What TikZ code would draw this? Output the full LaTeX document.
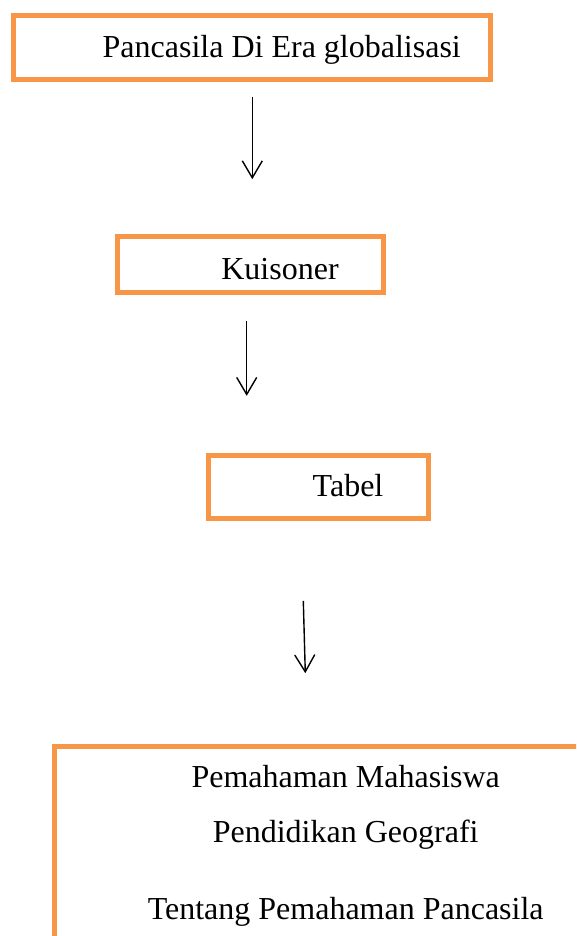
\documentclass[tikz,border=0pt]{standalone}
\usepackage{fontspec}
\setmainfont{Liberation Serif}
\usepackage{tikz}
\usetikzlibrary{calc,arrows.meta,positioning}
\definecolor{boxorange}{RGB}{247,150,70}

\begin{document}
\begin{tikzpicture}[x=1pt,y=-1pt]

\tikzset{orangebox/.style={draw=boxorange,line width=5pt,inner sep=0pt,shape=rectangle},
boxtext/.style={font=\fontsize{32}{38}\selectfont,inner sep=0pt,anchor=base},
flowarrow/.style={line width=1.4pt,-{Straight Barb[length=17pt,width=20pt,line width=1.4pt]}}}

\path[use as bounding box,clip] (0,0) rectangle (576,936);

% Boxes
\node[orangebox,minimum width=477.5pt,minimum height=64.5pt] (era) at (251.75,47.75) {};
\node[orangebox,minimum width=266pt,minimum height=56pt] (kuis) at (250,264.8) {};
\node[orangebox,minimum width=220pt,minimum height=63.5pt] (tabel) at (318,486.75) {};
\node[orangebox,minimum width=600pt,minimum height=300pt] (hasil) at (354.7,896) {};

% Texts
\node[boxtext] (eraText) at ($(era.center) + (30,9.3)$) {Pancasila Di Era globalisasi};
\node[boxtext] (kuisText) at ($(kuis.center) + (30,14.5)$) {Kuisoner};
\node[boxtext] (tabelText) at ($(tabel.center) + (30,10)$) {Tabel};
\node[boxtext] (hasil1) at ($(hasil.north west) + (293.5,44)$) {Pemahaman Mahasiswa};
\node[boxtext] (hasil2) at ($(hasil.north west) + (293.5,99)$) {Pendidikan Geografi};
\node[boxtext] (hasil3) at ($(hasil.north west) + (293.5,176)$) {Tentang Pemahaman Pancasila};

% Arrows
\coordinate (a1) at ($(era.south) + (0.55,14.3)$); \coordinate (b1) at ($(era.south) + (0.55,96.7)$);
\coordinate (a2) at ($(kuis.south) + (-3.3,25.5)$); \coordinate (b2) at ($(kuis.south) + (-3.3,100.5)$);
\coordinate (a3) at ($(tabel.south) + (-14.7,79.8)$); \coordinate (b3) at ($(tabel.south) + (-12.7,152.2)$);
\foreach \i in {1,2,3} \draw[flowarrow] (a\i) -- (b\i);

\end{tikzpicture}
\end{document}
